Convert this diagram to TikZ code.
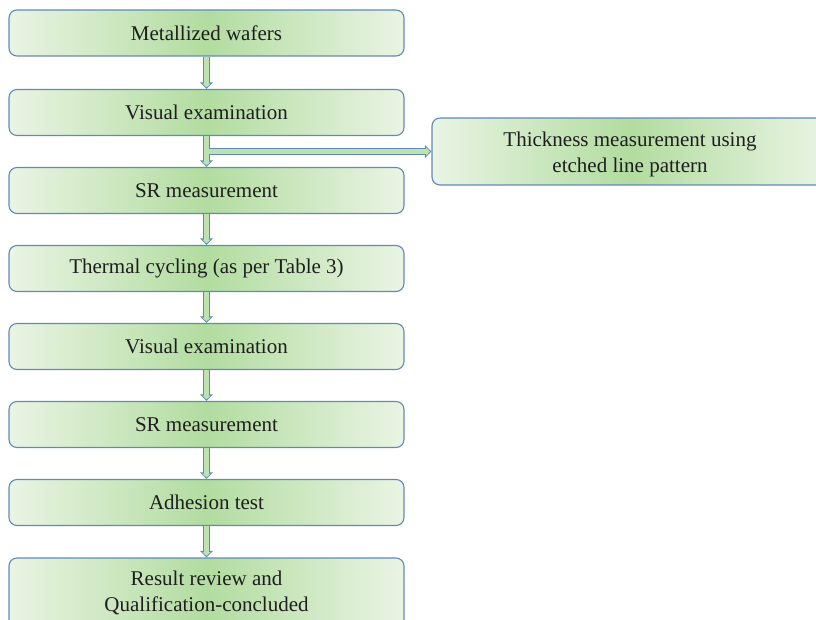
\documentclass[tikz,border=0pt]{standalone}
\usepackage{fontspec}
\setmainfont{Liberation Serif}
\usetikzlibrary{arrows.meta}
\definecolor{bordc}{RGB}{96,138,190}
\definecolor{edgec}{RGB}{234,244,228}
\definecolor{midc}{RGB}{178,220,160}
\definecolor{txtc}{RGB}{30,30,30}
\definecolor{arrfill}{RGB}{190,226,175}
\tikzset{
  box/.style={draw=bordc, line width=1.1pt, rounded corners=8pt,
    left color=edgec, right color=edgec, middle color=midc,
    minimum width=395pt, minimum height=46pt, inner sep=0pt,
    text=txtc, font=\fontsize{21}{26}\selectfont, align=center},
  connout/.style={draw=bordc, line width=7.4pt, -{Triangle[length=6.5pt,width=12.5pt]}},
  connin/.style={draw=arrfill, line width=5.2pt, shorten >=1.5pt, -{Triangle[length=3.9pt,width=8pt]}},
}
\begin{document}
\begin{tikzpicture}[x=1pt,y=-1pt]
\useasboundingbox[fill=white] (0,0) rectangle (816,620);
\node[box] (b1) at (206.5,33) {Metallized wafers};
\node[box] (b2) at (206.5,112.5) {Visual examination};
\node[box] (b3) at (206.5,190.5) {SR measurement};
\node[box] (b4) at (206.5,268.5) {Thermal cycling (as per Table 3)};
\node[box] (b5) at (206.5,346.5) {Visual examination};
\node[box] (b6) at (206.5,424.5) {SR measurement};
\node[box] (b7) at (206.5,502.5) {Adhesion test};
\node[box, minimum height=70pt] (b8) at (206.5,593) {Result review and\\Qualification-concluded};
\node[box, minimum width=396pt, minimum height=67pt, text height=46.5pt] (r) at (630,151.5) {Thickness measurement using\\etched line pattern};
\path (b2.south) -- (b3.north) coordinate[pos=0.5] (h);
% outer layer
\draw[connout] (h) -- (h -| r.west);
\foreach \a/\b in {b1/b2,b2/b3,b3/b4,b4/b5,b5/b6,b6/b7,b7/b8}
  \draw[connout] (\a.south) -- (\b.north);
% inner layer
\draw[connin] (h) -- (h -| r.west);
\foreach \a/\b in {b1/b2,b2/b3,b3/b4,b4/b5,b5/b6,b6/b7,b7/b8}
  \draw[connin] ([yshift=-0.2pt]\a.south) -- (\b.north);
\end{tikzpicture}
\end{document}
